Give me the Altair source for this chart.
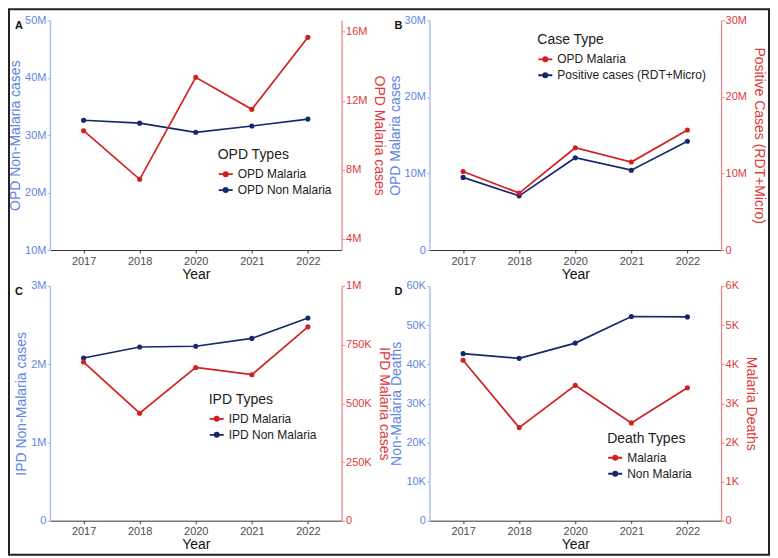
import altair as alt
import pandas as pd

years = ["2017", "2018", "2020", "2021", "2022"]

opd_non_malaria = [32.6e6, 32.1e6, 30.5e6, 31.6e6, 32.8e6]
opd_malaria = [10.26e6, 7.44e6, 13.36e6, 11.5e6, 15.68e6]
positive_cases = [9.49e6, 7.08e6, 12.05e6, 10.43e6, 14.21e6]
ipd_non_malaria = [2.08e6, 2.22e6, 2.23e6, 2.33e6, 2.59e6]
ipd_malaria = [676e3, 458e3, 653e3, 622e3, 826e3]
non_malaria_deaths = [42.7e3, 41.5e3, 45.4e3, 52.2e3, 52.1e3]
malaria_deaths = [4100, 2380, 3460, 2500, 3400]

RED = "#d21f1f"
NAVY = "#13296b"
BLUE_TXT = "#5f86e2"
BLUE_LINE = "#9fb6ee"
RED_TXT = "#e0393b"
RED_LINE = "#ea8a8a"
FONT = "Liberation Sans"
LBL = "replace(format(datum.value,'~s'),'k','K')"
SYM = "M-1,0L1,0M-0.3,0A0.3,0.3,0,1,1,0.3,0A0.3,0.3,0,1,1,-0.3,0Z"

W = 292
H_TOP = 230
H_BOT = 235
COL_SP = 88
ROW_SP = 36


def panel(letter, h, blue_label, blue_vals, red_label, red_vals,
          left_title, right_title, left_dom, left_ticks,
          right_dom, right_ticks, legend_title, lx, ly, frame=False):
    df = pd.DataFrame({
        "Year": years + years,
        "value": blue_vals + red_vals,
        "series": [blue_label] * 5 + [red_label] * 5,
    })
    x = alt.X("Year:N", sort=years,
              scale=alt.Scale(type="point", padding=0.6),
              axis=alt.Axis(title="Year", labelColor="#4d4d4d", labelFontSize=11,
                            titleFontSize=14, titleColor="#111", titleFontWeight="normal",
                            domainColor="#333", tickColor="#444", tickSize=3,
                            labelPadding=2, titlePadding=1, labelAngle=0, grid=False))
    color = alt.Color("series:N",
                      scale=alt.Scale(domain=[red_label, blue_label], range=[RED, NAVY]),
                      legend=alt.Legend(title=legend_title, orient="none",
                                        legendX=lx, legendY=ly, padding=0,
                                        titleFontSize=14, titleFontWeight="normal",
                                        titleColor="#222", labelFontSize=12,
                                        labelColor="#222", symbolType=SYM,
                                        symbolSize=196, symbolStrokeWidth=1.8,
                                        rowPadding=2, titlePadding=4, labelOffset=4,
                                        symbolOpacity=1))
    yl = alt.Y("value:Q",
               scale=alt.Scale(domain=left_dom, nice=False, zero=False),
               axis=alt.Axis(title=left_title, orient="left", values=left_ticks,
                             labelExpr=LBL, domainColor=BLUE_LINE, domainWidth=1.3,
                             tickColor=BLUE_LINE, labelColor=BLUE_TXT,
                             titleColor=BLUE_TXT, tickSize=3, labelPadding=1,
                             titlePadding=2, labelFontSize=11, titleFontSize=14,
                             titleFontWeight="normal", grid=False))
    yr = alt.Y("value:Q",
               scale=alt.Scale(domain=right_dom, nice=False, zero=False),
               axis=alt.Axis(title=right_title, orient="right", values=right_ticks,
                             labelExpr=LBL, domainColor=RED_LINE, domainWidth=1.3,
                             tickColor=RED_LINE, labelColor=RED_TXT,
                             titleColor=RED_TXT, tickSize=3, labelPadding=1,
                             titlePadding=5, labelFontSize=11, titleFontSize=14,
                             titleFontWeight="normal", grid=False))
    bb = alt.Chart(df).transform_filter(alt.datum.series == blue_label)
    rb = alt.Chart(df).transform_filter(alt.datum.series == red_label)
    left = alt.layer(
        bb.mark_line(strokeWidth=1.7).encode(x=x, y=yl, color=color),
        bb.mark_point(filled=True, size=26, opacity=1).encode(x=x, y=yl, color=color),
    )
    right = alt.layer(
        rb.mark_line(strokeWidth=1.7).encode(x=x, y=yr, color=color),
        rb.mark_point(filled=True, size=26, opacity=1).encode(x=x, y=yr, color=color),
    )
    lt = alt.Chart(pd.DataFrame({"t": [letter]})).mark_text(
        fontWeight="bold", fontSize=11, align="center", baseline="middle", color="#111"
    ).encode(text="t:N", x=alt.value(-31), y=alt.value(6))
    layers = [left, right, lt]
    if frame:
        fr = alt.Chart(pd.DataFrame({"t": [letter]})).mark_rect(
            fillOpacity=0, stroke="#222", strokeWidth=2
        ).encode(x=alt.value(-41), x2=alt.value(W + COL_SP + W + 48),
                 y=alt.value(-11), y2=alt.value(H_TOP + ROW_SP + H_BOT + 34))
        layers.append(fr)
    return alt.layer(*layers).resolve_scale(y="independent").properties(width=W, height=h)


pA = panel("A", H_TOP, "OPD Non Malaria", opd_non_malaria, "OPD Malaria", opd_malaria,
           "OPD Non-Malaria cases", "OPD Malaria cases",
           [10e6, 50e6], [10e6, 20e6, 30e6, 40e6, 50e6],
           [10e6 / 3, 50e6 / 3], [4e6, 8e6, 12e6, 16e6],
           "OPD Types", 168, 128, frame=True)
pB = panel("B", H_TOP, "Positive cases (RDT+Micro)", positive_cases, "OPD Malaria", opd_malaria,
           "OPD Malaria cases", "Positive Cases (RDT+Micro)",
           [0, 30e6], [0, 10e6, 20e6, 30e6],
           [0, 30e6], [0, 10e6, 20e6, 30e6],
           "Case Type", 108, 13)
pC = panel("C", H_BOT, "IPD Non Malaria", ipd_non_malaria, "IPD Malaria", ipd_malaria,
           "IPD Non-Malaria cases", "IPD Malaria cases",
           [0, 3e6], [0, 1e6, 2e6, 3e6],
           [0, 1e6], [0, 250e3, 500e3, 750e3, 1e6],
           "IPD Types", 159, 107)
pD = panel("D", H_BOT, "Non Malaria", non_malaria_deaths, "Malaria", malaria_deaths,
           "Non-Malaria Deaths", "Malaria Deaths",
           [0, 60e3], [0, 10e3, 20e3, 30e3, 40e3, 50e3, 60e3],
           [0, 6e3], [0, 1e3, 2e3, 3e3, 4e3, 5e3, 6e3],
           "Death Types", 178, 146)

chart = alt.concat(pA, pB, pC, pD, columns=2, spacing={"row": ROW_SP, "column": COL_SP},
                   bounds="flush").resolve_scale(color="independent").properties(
    padding=0).configure(font=FONT).configure_view(strokeWidth=0)

chart.save("out.html", embed_options={"renderer": "svg", "actions": False})
